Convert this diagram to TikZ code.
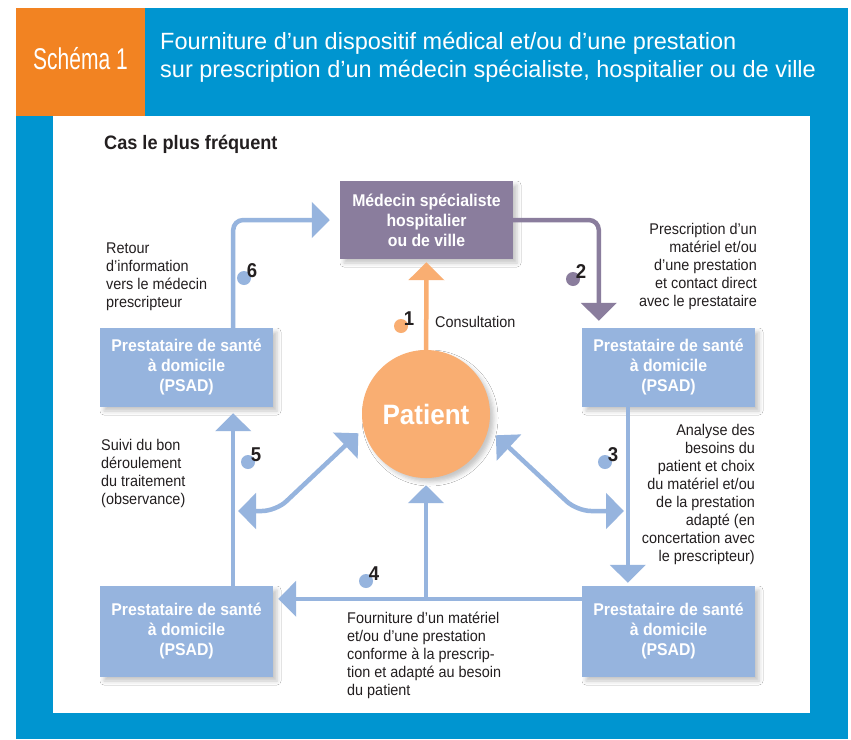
\documentclass[tikz,border=0pt]{standalone}
\usepackage{fontspec}
\setmainfont{Liberation Sans}[FakeStretch=0.93]
\newfontfamily\titlefont{Liberation Sans}
\newfontfamily\schemafont{Liberation Sans}[FakeStretch=0.7]
\usetikzlibrary{arrows.meta,shadows.blur}

\definecolor{frameblue}{RGB}{0,149,208}
\definecolor{titleorange}{RGB}{242,131,34}
\definecolor{medpurple}{RGB}{138,125,157}
\definecolor{psadblue}{RGB}{150,180,222}
\definecolor{patorange}{RGB}{249,174,114}
\definecolor{inkgray}{RGB}{35,31,32}

\tikzset{
  boxshadow/.style={blur shadow={shadow xshift=4pt, shadow yshift=-4pt, shadow blur radius=4pt, shadow opacity=22}},
  psad/.style={fill=psadblue, boxshadow, minimum width=173pt, minimum height=79pt, text=white,
    align=center, inner sep=0pt, font=\bfseries\fontsize{17}{20}\selectfont},
  medbox/.style={psad, fill=medpurple, minimum height=78pt},
  flow/.style={line width=4.5pt, -{Triangle[width=35pt,length=18pt]}},
  blueflow/.style={flow, draw=psadblue},
  blueboth/.style={line width=4.5pt, draw=psadblue, {Triangle[width=35pt,length=18pt]}-{Triangle[width=35pt,length=18pt]}},
  txt/.style={text=inkgray, inner sep=0pt, font=\fontsize{15.5}{18}\selectfont},
  num/.style={text=inkgray, inner sep=0pt, font=\bfseries\fontsize{20}{20}\selectfont},
}

\begin{document}
\begin{tikzpicture}[x=1pt,y=-1pt]
\useasboundingbox (0,0) rectangle (851,739);
\fill[frameblue] (16,8) rectangle (848,739);
\fill[titleorange] (16,8) rectangle (145,116);
\fill[white] (53,116) rectangle (810,713);
\node[anchor=base, inner sep=0pt, text=white, font=\schemafont\fontsize{30}{30}\selectfont] (schema) at (80.5,69) {Schéma 1};
\node[anchor=base west, align=left, inner sep=0pt, text=white, font=\titlefont\fontsize{23.5}{28}\selectfont] (titre) at (160,77)
  {Fourniture d’un dispositif médical et/ou d’une prestation\\sur prescription d’un médecin spécialiste, hospitalier ou de ville};
\node[anchor=base west, inner sep=0pt, text=inkgray, font=\bfseries\fontsize{19.5}{20}\selectfont] (cas) at (104,149) {Cas le plus fréquent};

\node[medbox] (med) at (426.5,220) {Médecin spécialiste\\hospitalier\\ou de ville};
\node[psad] (psadhg) at (186.5,367.5) {Prestataire de santé\\à domicile\\(PSAD)};
\node[psad] (psadhd) at (668.5,367.5) {Prestataire de santé\\à domicile\\(PSAD)};
\node[psad, minimum height=91pt] (psadbg) at (186.5,631.5) {Prestataire de santé\\à domicile\\(PSAD)};
\node[psad, minimum height=91pt] (psadbd) at (668.5,631.5) {Prestataire de santé\\à domicile\\(PSAD)};
\node[circle, fill=patorange, boxshadow, minimum size=128pt, inner sep=0pt, text=white,
  font=\bfseries\fontsize{28}{28}\selectfont] (patient) at (426,414) {Patient};

\draw[flow, draw=patorange, shorten >=3pt] (patient) -- (med);
\draw[blueflow, rounded corners=10pt, shorten >=10pt] ([xshift=-40pt]psadhg.north east) |- (med.west);
\draw[flow, draw=medpurple, rounded corners=10pt, shorten >=7pt] (med.east) -| ([xshift=17pt]psadhd.north west);
\draw[blueflow, shorten >=3pt] ([xshift=46pt]psadhd.south west) -- ([xshift=46pt]psadbd.north west);
\draw[blueflow, shorten >=6pt] ([xshift=-40pt]psadbg.north east) -- ([xshift=-40pt]psadhg.south east);
\path ([yshift=-13pt]psadbd.north west) coordinate (d4);
\coordinate (jonction) at (patient.south |- d4);
\draw[blueflow, shorten >=5pt] (d4) -- (d4 -| psadbg.east);
\draw[blueflow, shorten >=7pt] (jonction) -- (patient.south);
\coordinate (coudeg) at (276,511);
\coordinate (couded) at (577,511);
\draw[blueboth, rounded corners=14pt, shorten <=7pt] (patient.193) -- (coudeg) -- (238,511);
\draw[blueboth, rounded corners=14pt, shorten <=10pt] (patient.347) -- (couded) -- (624,511);

\foreach \x/\y/\c/\n in {409/319/patorange/1, 581/272/medpurple/2, 613/455/psadblue/3,
    374/574/psadblue/4, 256/455/psadblue/5, 252/271/psadblue/6} {
  \fill[\c] (\x-8,\y+7) circle (7pt);
  \node[num] (num\n) at (\x,\y) {\n};
}

\node[txt, anchor=base west, align=left] (retour) at (106,307) {Retour\\d’information\\vers le médecin\\prescripteur};
\node[txt, anchor=base east, align=right] (prescr) at (757,306) {Prescription d’un\\matériel et/ou\\d’une prestation\\et contact direct\\avec le prestataire};
\node[txt, anchor=base west] (consult) at (435,327) {Consultation};
\node[txt, anchor=base east, align=right] (analyse) at (755,561) {Analyse des\\besoins du\\patient et choix\\du matériel et/ou\\de la prestation\\adapté (en\\concertation avec\\le prescripteur)};
\node[txt, anchor=base west, align=left] (suivi) at (101,504) {Suivi du bon\\déroulement\\du traitement\\(observance)};
\node[txt, anchor=base west, align=left] (fourn) at (347,695) {Fourniture d’un matériel\\et/ou d’une prestation\\conforme à la prescrip-\\tion et adapté au besoin\\du patient};
\end{tikzpicture}
\end{document}
